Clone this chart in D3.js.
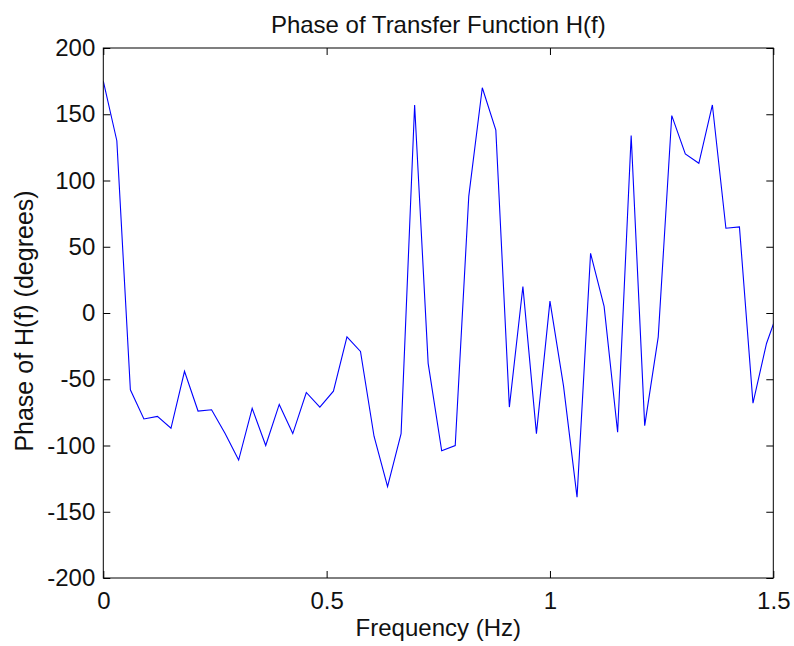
<!DOCTYPE html>
<html>
<head>
<meta charset="utf-8">
<script src="https://cdn.jsdelivr.net/npm/d3@7"></script>
<style>
  html, body { margin: 0; padding: 0; background: #fff; }
  svg text { font-family: "Liberation Sans", Arial, Helvetica, sans-serif; fill: #111; }
</style>
</head>
<body>
<div id="chart"></div>
<script>
// Frequency samples (Hz), one every 1/33 Hz; the last one lies past the axis limit
const frequency = [
  0.0000, 0.0303, 0.0606, 0.0909, 0.1212, 0.1515, 0.1818, 0.2121, 0.2424, 0.2727,
  0.3030, 0.3333, 0.3636, 0.3939, 0.4242, 0.4545, 0.4848, 0.5152, 0.5455, 0.5758,
  0.6061, 0.6364, 0.6667, 0.6970, 0.7273, 0.7576, 0.7879, 0.8182, 0.8485, 0.8788,
  0.9091, 0.9394, 0.9697, 1.0000, 1.0303, 1.0606, 1.0909, 1.1212, 1.1515, 1.1818,
  1.2121, 1.2424, 1.2727, 1.3030, 1.3333, 1.3636, 1.3939, 1.4242, 1.4545, 1.4848,
  1.5152
]

// Phase of H(f), degrees
const phase = [
  175, 130, -58, -80, -78, -87, -44, -74, -73, -91,
  -111, -72, -100, -69, -91, -60, -71, -59, -18, -29,
  -93, -131, -91, 157, -38, -104, -100, 88, 170, 138,
  -71, 20, -91, 9, -55, -139, 45, 5, -90, 134,
  -85, -18, 149, 120, 113, 157, 64, 65, -68, -23,
  6
]

const xTicks = [0, 0.5, 1, 1.5]
const yTicks = [-200, -150, -100, -50, 0, 50, 100, 150, 200]
const xDomain = [0, 1.5]
const yDomain = [-200, 200]

const titleText = 'Phase of Transfer Function H(f)'
const xLabelText = 'Frequency (Hz)'
const yLabelText = 'Phase of H(f) (degrees)'

// Layout
const W = 794, H = 646
const margin = { top: 48, right: 20.7, bottom: 68, left: 103.3 }
const width = W - margin.left - margin.right
const height = H - margin.top - margin.bottom
const tickLen = 7

const svg = d3.select('#chart')
  .append('svg')
    .attr('width', W)
    .attr('height', H)

const xSc = d3.scaleLinear().domain(xDomain).range([0, width])
const ySc = d3.scaleLinear().domain(yDomain).range([height, 0])

const g = svg.append('g')
  .attr('transform', `translate(${margin.left},${margin.top})`)

svg.append('defs').append('clipPath')
    .attr('id', 'plot-clip')
  .append('rect')
    .attr('width', width)
    .attr('height', height)

// line
const data = frequency.map((f, i) => ({ f: f, p: phase[i] }))
const lineMkr = d3.line()
  .x(d => xSc(d.f))
  .y(d => ySc(d.p))

g.append('path')
  .datum(data)
  .attr('clip-path', 'url(#plot-clip)')
  .attr('fill', 'none')
  .attr('stroke', '#0000ff')
  .attr('stroke-width', 1.1)
  .attr('d', lineMkr)

// axes, ticks pointing inward like matlab; plain hyphen for negatives
const fmt = d => String(d)

function styleAxis(sel) {
  sel.select('.domain').remove()
  sel.selectAll('.tick line').attr('stroke', '#000')
  sel.selectAll('text').style('font-size', '24px').attr('fill', '#111')
}

g.append('g')
  .attr('transform', `translate(0,${height})`)
  .call(d3.axisBottom(xSc).tickValues(xTicks).tickFormat(fmt).tickSize(-tickLen).tickPadding(14))
  .call(styleAxis)

g.append('g')
  .call(d3.axisTop(xSc).tickValues(xTicks).tickFormat('').tickSize(-tickLen))
  .call(styleAxis)

g.append('g')
  .call(d3.axisLeft(ySc).tickValues(yTicks).tickFormat(fmt).tickSize(-tickLen).tickPadding(8))
  .call(styleAxis)

g.append('g')
  .attr('transform', `translate(${width},0)`)
  .call(d3.axisRight(ySc).tickValues(yTicks).tickFormat('').tickSize(-tickLen))
  .call(styleAxis)

// box
g.append('rect')
  .attr('width', width)
  .attr('height', height)
  .attr('fill', 'none')
  .attr('stroke', '#000')
  .attr('stroke-width', 1)

// titles
svg.append('text')
  .attr('x', margin.left + width / 2)
  .attr('y', 33)
  .attr('text-anchor', 'middle')
  .style('font-size', '24px')
  .text(titleText)

svg.append('text')
  .attr('x', margin.left + width / 2)
  .attr('y', 636)
  .attr('text-anchor', 'middle')
  .style('font-size', '24px')
  .text(xLabelText)

svg.append('text')
  .attr('transform', `translate(33,${321}) rotate(-90)`)
  .attr('text-anchor', 'middle')
  .style('font-size', '25px')
  .text(yLabelText)
</script>
</body>
</html>
